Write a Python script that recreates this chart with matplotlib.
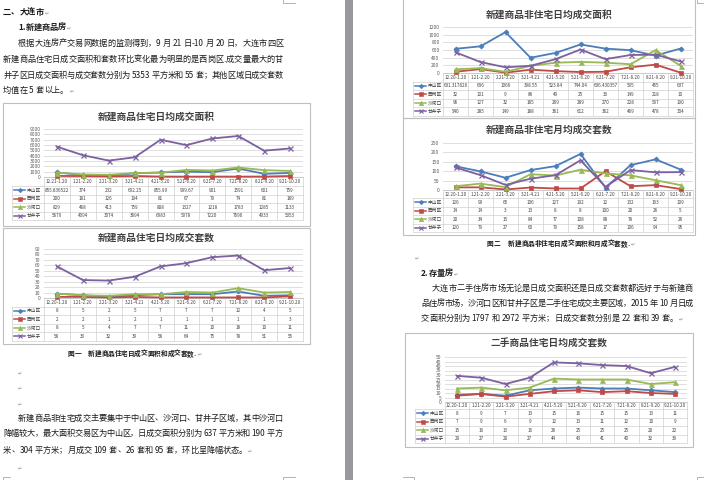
import matplotlib
matplotlib.use('Agg')
import matplotlib.pyplot as plt
from matplotlib.patches import Rectangle

plt.rcParams['font.family'] = ['Noto Sans CJK SC', 'DejaVu Sans']

W, H = 704, 480

# ---- data ----
names = ['中山区', '西岗区', '沙河口', '甘井子']
colors = ['#4A7EBB', '#BE4B48', '#98B954', '#7D60A0']
markers = ['D', 's', '^', 'x']

cats_a = ['12.21-1.20', '1.21-2.20', '2.21-3.20', '3.21-4.21', '4.21-5.20',
          '5.21-6.20', '6.21-7.20', '7.21-8.20', '8.21-9.20', '9.21-10.20']
cats_b = ['12.20-1.20', '1.21-2.20', '2.21-3.20', '3.21-4.21', '4.21-5.20',
          '5.21-6.20', '6.21-7.20', '7.21-8.20', '8.21-9.20', '9.21-10.20']

# 新建商品住宅日均成交面积
res_area_zs = [855.836522, 374, 232, 692.25, 855.99, 999.67, 901, 1591, 601, 759]
res_area_xg = [200, 181, 126, 194, 81, 67, 79, 74, 81, 189]
res_area_shk = [829, 468, 413, 759, 808, 1327, 1218, 1783, 1285, 1133]
res_area_gjz = [5679, 4094, 3074, 3694, 6983, 5978, 7220, 7690, 4933, 5353]

# 新建商品住宅日均成交套数
res_cnt_zs = [8, 5, 2, 5, 7, 7, 7, 12, 4, 5]
res_cnt_xg = [2, 2, 1, 2, 1, 1, 1, 1, 1, 3]
res_cnt_shk = [8, 5, 4, 7, 7, 11, 10, 18, 10, 11]
res_cnt_gjz = [58, 33, 32, 39, 58, 64, 75, 78, 51, 55]

# 新建商品非住宅日均成交面积
nres_area_zs = [631.317826, 696, 1066, 398.55, 523.84, 744.04, 636.430357, 595, 455, 637]
nres_area_xg = [32, 101, 9, 86, 49, 25, 33, 149, 218, 10]
nres_area_shk = [96, 127, 32, 185, 269, 289, 270, 228, 597, 190]
nres_area_gjz = [540, 285, 149, 188, 361, 612, 362, 469, 478, 304]

# 新建商品非住宅月均成交套数
nres_cnt_zs = [126, 99, 65, 106, 127, 192, 12, 132, 163, 109]
nres_cnt_xg = [14, 14, 3, 13, 8, 8, 100, 20, 26, 5]
nres_cnt_shk = [20, 34, 15, 84, 77, 108, 88, 78, 52, 26]
nres_cnt_gjz = [120, 79, 27, 60, 79, 158, 17, 106, 94, 95]

# 二手商品住宅日均成交套数
sec_cnt_zs = [8, 9, 7, 13, 15, 16, 15, 15, 13, 11]
sec_cnt_xg = [7, 9, 6, 9, 12, 13, 11, 12, 10, 9]
sec_cnt_shk = [15, 16, 13, 16, 26, 25, 25, 25, 20, 22]
sec_cnt_gjz = [29, 27, 20, 27, 44, 43, 41, 40, 32, 39]

fig = plt.figure(figsize=(7.04, 4.8), dpi=100)
page = fig.add_axes([0, 0, 1, 1])
page.set_xlim(0, W)
page.set_ylim(H, 0)
page.axis('off')

# gap between the two pages
page.add_patch(Rectangle((345, 0), 8, H, color='#97999E', lw=0))

renderer = fig.canvas.get_renderer()
_wcache = {}


def adv(tok, size, weight):
    key = (tok, size, weight)
    if key not in _wcache:
        def w(s):
            t = page.text(0, 0, s, fontsize=size, fontweight=weight)
            ww = t.get_window_extent(renderer).width
            t.remove()
            return ww
        _wcache[key] = w('国' + tok + '国') - w('国国')
    return _wcache[key]


def tokens(s):
    out, buf = [], ''
    for ch in s:
        if ch != ' ' and ord(ch) < 128:
            buf += ch
            continue
        if buf:
            out.append(buf)
            buf = ''
        out.append(ch)
    if buf:
        out.append(buf)
    return out


def text_line(s, x0, x1, y, size=5.9, justify=True, weight='normal', color='#1a1a1a'):
    toks = tokens(s)
    ws = [adv(t, size, weight) for t in toks]
    gap = 0
    if justify and len(toks) > 1:
        gap = (x1 - x0 - sum(ws)) / (len(toks) - 1)
    x = x0
    for t, w in zip(toks, ws):
        if t != ' ':
            page.text(x, y + 2.6, t, fontsize=size, fontweight=weight, color=color,
                      ha='left', va='baseline')
        x += w + gap
    return x - gap


def pmark(x, y):
    page.text(x, y + 2.2, '↵', fontsize=3.6, color='#8C8C8C', ha='left', va='baseline',
              family=['DejaVu Sans'])


def paragraph(lines, xs, x1, ys, size=5.9):
    end = 0
    for i, (s, x0, y) in enumerate(zip(lines, xs, ys)):
        end = text_line(s, x0, x1, y, size, justify=(i < len(lines) - 1))
    pmark(end + 1, ys[-1])


def fmt(v):
    return str(int(v)) if float(v).is_integer() else repr(v)


msize = {'D': 2.6, 's': 3.2, '^': 3.6, 'x': 3.6}


def draw_chart(frame, title, title_y, plot, tab_left, rows, cats, series, yticks):
    fx0, fy0, fx1, fy1 = frame
    page.add_patch(Rectangle((fx0, fy0), fx1 - fx0, fy1 - fy0, fill=False,
                             ec='#BFBFBF', lw=0.8))
    page.text((fx0 + fx1) / 2, title_y, title, ha='center', va='center',
              fontsize=7, fontweight='bold', color='#404040')
    px0, py0, px1, py1 = plot
    ax = fig.add_axes([px0 / W, 1 - py1 / H, (px1 - px0) / W, (py1 - py0) / H])
    ax.patch.set_alpha(0)
    n = len(cats)
    for vals, c, m in zip(series, colors, markers):
        ax.plot(range(n), vals, color=c, lw=1.3, marker=m, ms=msize[m],
                mew=0.9 if m == 'x' else 0.5, clip_on=False, zorder=3)
    ax.set_xlim(-0.5, n - 0.5)
    ax.set_ylim(yticks[0], yticks[-1])
    ax.set_yticks(yticks)
    ax.set_xticks([])
    ax.yaxis.grid(True, color='#D9D9D9', lw=0.6)
    ax.set_axisbelow(True)
    for s in ax.spines.values():
        s.set_visible(False)
    ax.tick_params(axis='y', length=0, labelsize=3.5, pad=2.5, labelcolor='#595959')

    # data table
    colw = (px1 - px0) / n
    lc = '#D0D0D0'
    page.plot([px0, px1], [rows[0], rows[0]], color='#BFBFBF', lw=0.6)
    for r in rows[1:]:
        page.plot([tab_left, px1], [r, r], color=lc, lw=0.5)
    page.plot([tab_left, tab_left], [rows[1], rows[-1]], color=lc, lw=0.5)
    for i in range(n + 1):
        xx = px0 + i * colw
        page.plot([xx, xx], [rows[0], rows[-1]], color=lc, lw=0.5)
    for i, lab in enumerate(cats):
        cx = px0 + (i + 0.5) * colw
        page.text(cx, (rows[0] + rows[1]) / 2, lab, ha='center', va='center',
                  fontsize=3.3, color='#404040')
        for r, vals in enumerate(series):
            page.text(cx, (rows[r + 1] + rows[r + 2]) / 2, fmt(vals[i]), ha='center',
                      va='center', fontsize=3.3, color='#404040')
    for r, (nm, c, m) in enumerate(zip(names, colors, markers)):
        cy = (rows[r + 1] + rows[r + 2]) / 2
        page.plot([tab_left + 2, tab_left + 13], [cy, cy], color=c, lw=1.1)
        page.plot([tab_left + 7.5], [cy], color=c, marker=m, ms=msize[m] * 0.9,
                  mew=0.8 if m == 'x' else 0.4)
        page.text(tab_left + 14.5, cy, nm, ha='left', va='center', fontsize=3.4,
                  color='#404040')


draw_chart((3, 103, 310, 226), '新建商品住宅日均成交面积', 117, (44, 129, 303, 177), 12,
           [177, 186, 194.5, 203, 211.5, 220], cats_a,
           [res_area_zs, res_area_xg, res_area_shk, res_area_gjz], list(range(0, 9001, 1000)))
draw_chart((3, 228, 310, 344), '新建商品住宅日均成交套数', 238, (44, 249, 303, 298), 12,
           [298, 306.5, 315, 323.5, 332, 340.5], cats_b,
           [res_cnt_zs, res_cnt_xg, res_cnt_shk, res_cnt_gjz], list(range(0, 91, 10)))
draw_chart((403, -3, 695, 118), '新建商品非住宅日均成交面积', 15, (443, 27, 693, 73), 413,
           [73, 81.5, 90, 98.5, 107, 115.5], cats_b,
           [nres_area_zs, nres_area_xg, nres_area_shk, nres_area_gjz], list(range(0, 1201, 200)))
draw_chart((403, 118, 695, 235), '新建商品非住宅月均成交套数', 130, (443, 143, 693, 190), 413,
           [190, 198, 206.5, 215, 223.5, 232], cats_b,
           [nres_cnt_zs, nres_cnt_xg, nres_cnt_shk, nres_cnt_gjz], list(range(0, 251, 50)))
draw_chart((405, 333, 693, 447), '二手商品住宅日均成交套数', 344, (445, 357, 687, 402), 415,
           [402, 409, 417.5, 426, 434.5, 443], cats_b,
           [sec_cnt_zs, sec_cnt_xg, sec_cnt_shk, sec_cnt_gjz], list(range(0, 51, 5)))

# ---- document text, left page ----
e = text_line('二、大连市', 3, 283, 12, weight='bold', justify=False)
pmark(e + 1, 12)
e = text_line('1.新建商品房', 18, 283, 27, weight='bold', justify=False)
pmark(e + 1, 27)
paragraph(['根据大连房产交易网数据的监测得到，9 月 21 日-10 月 20 日，大连市四区',
           '新建商品住宅日成交面积和套数环比变化最为明显的是西岗区.成交量最大的甘',
           '井子区日成交面积与成交套数分别为 5353 平方米和 55 套；其他区域日成交套数',
           '均值在 5 套以上。'],
          [18, 3, 3, 3], 283, [43, 59, 75, 90])

e = text_line('图一', 68, 300, 353, size=4.8, weight='bold', justify=False)
e = text_line('新建商品住宅日成交面积和成交套数.', 88, 300, 353, size=4.8, weight='bold',
              justify=False)
pmark(e + 1, 353)

for yy in [372, 387, 403, 467]:
    pmark(18, yy)
paragraph(['新建商品非住宅成交主要集中于中山区、沙河口、甘井子区域，其中沙河口',
           '降幅较大，最大面积交易区为中山区，日成交面积分别为 637 平方米和 190 平方',
           '米、304 平方米；月成交 109 套、26 套和 95 套，环比呈降幅状态。'],
          [18, 3, 3], 283, [418, 433, 450])

# ---- document text, right page ----
e = text_line('图二', 487, 700, 243, size=4.8, weight='bold', justify=False)
e = text_line('新建商品非住宅日成交面积和月成交套数.', 508, 700, 243, size=4.8, weight='bold',
              justify=False)
pmark(e + 1, 243)
pmark(415, 257)
e = text_line('2.存量房', 421, 693, 273, weight='bold', justify=False)
pmark(e + 1, 273)
paragraph(['大连市二手住房市场无论是日成交面积还是日成交套数都远好于与新建商',
           '品住房市场，沙河口区和甘井子区是二手住宅成交主要区域，2015 年 10 月日成',
           '交面积分别为 1797 和 2972 平方米；日成交套数分别是 22 套和 39 套。'],
          [432, 421, 421], 693, [288, 303, 318])

# page corner marks
mk = dict(color='#A6A6A6', lw=0.6)
page.plot([283, 283, 295], [0, 3, 3], **mk)
page.plot([3, 3, 10], [480, 477, 477], **mk)
page.plot([283, 283, 295], [480, 477, 477], **mk)
page.plot([403, 414, 414], [477, 477, 480], **mk)
page.plot([697, 697, 704], [480, 477, 477], **mk)
page.plot([697, 697, 704], [0, 3, 3], **mk)

fig.savefig('out.png', dpi=100)
